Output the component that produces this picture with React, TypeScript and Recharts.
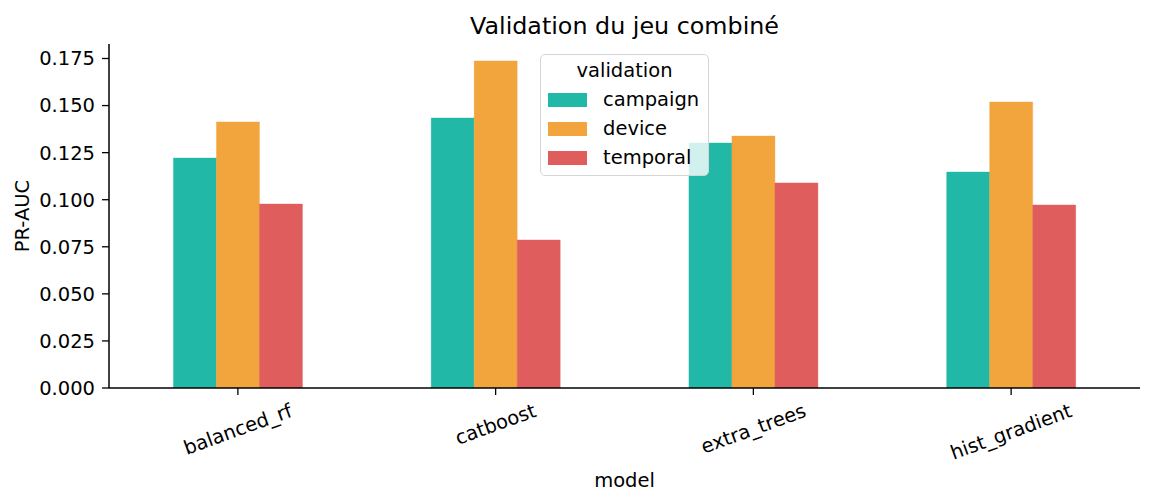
import React from 'react';
import { BarChart, Bar, XAxis, YAxis } from 'recharts';

// valeurs (PR-AUC par modèle et par type de validation)
const models = ['balanced_rf', 'catboost', 'extra_trees', 'hist_gradient'];
const campaign = [0.1221, 0.1434, 0.1301, 0.1147];
const device = [0.1413, 0.1737, 0.1338, 0.1519];
const temporal = [0.0977, 0.0786, 0.1089, 0.0972];
const yTicks = [0, 0.025, 0.05, 0.075, 0.1, 0.125, 0.15, 0.175];

const series = [
  { key: 'campaign', color: '#22B8A8' },
  { key: 'device', color: '#F2A53D' },
  { key: 'temporal', color: '#DF5D5D' },
];

const data = models.map((model, i) => ({
  model,
  campaign: campaign[i],
  device: device[i],
  temporal: temporal[i],
}));

const FONT = '"DejaVu Sans", sans-serif';
const FS = 19.5;
const W = 1153;
const H = 503;

let ctx: CanvasRenderingContext2D | null = null;
const textWidth = (s: string, size: number) => {
  if (!ctx) ctx = document.createElement('canvas').getContext('2d');
  if (!ctx) return s.length * size * 0.58;
  ctx.font = `${size}px "DejaVu Sans"`;
  return ctx.measureText(s).width;
};

// étiquettes de l'axe x tournées de 20°, centrées sous la graduation
const XTick = (props: any) => {
  const { x, y, payload } = props;
  const w = textWidth(payload.value, FS);
  const rad = (20 * Math.PI) / 180;
  const cy = y + 5 + (w * Math.sin(rad) + 20) / 2;
  return (
    <text
      transform={`translate(${x},${cy}) rotate(-20)`}
      textAnchor="middle"
      dominantBaseline="central"
      fontSize={FS}
      fontFamily={FONT}
      fill="#000"
    >
      {payload.value}
    </text>
  );
};

const XLabel = (props: any) => {
  const { viewBox } = props;
  return (
    <text
      x={viewBox.x + viewBox.width / 2}
      y={480}
      textAnchor="middle"
      dominantBaseline="central"
      fontSize={FS}
      fontFamily={FONT}
      fill="#000"
    >
      model
    </text>
  );
};

const YLabel = (props: any) => {
  const { viewBox } = props;
  const cy = viewBox.y + viewBox.height / 2;
  return (
    <text
      transform={`translate(22,${cy}) rotate(-90)`}
      textAnchor="middle"
      dominantBaseline="central"
      fontSize={FS}
      fontFamily={FONT}
      fill="#000"
    >
      PR-AUC
    </text>
  );
};

const App = () => {
  return (
    <div style={{ position: 'absolute', left: 0, top: 0, width: W, height: H, background: '#fff', fontFamily: FONT }}>
      <div
        style={{
          position: 'absolute',
          left: 109,
          width: 1031,
          top: 12,
          textAlign: 'center',
          fontSize: 23.8,
          lineHeight: '28px',
          color: '#000',
        }}
      >
        Validation du jeu combiné
      </div>

      <BarChart
        width={W}
        height={H}
        data={data}
        margin={{ top: 44, right: 13, left: 0, bottom: 0 }}
        barCategoryGap="25%"
        barGap={0}
      >
        <XAxis
          dataKey="model"
          height={115}
          tick={<XTick />}
          tickSize={7}
          tickMargin={0}
          axisLine={{ stroke: '#000', strokeWidth: 1.5 }}
          tickLine={{ stroke: '#000', strokeWidth: 1.3 }}
          interval={0}
          label={<XLabel />}
        />
        <YAxis
          width={109}
          domain={[0, 0.1827]}
          ticks={yTicks}
          tickFormatter={(v: number) => v.toFixed(3)}
          tick={{ fill: '#000', fontSize: FS, fontFamily: FONT }}
          tickSize={7}
          tickMargin={7}
          axisLine={{ stroke: '#000', strokeWidth: 1.5 }}
          tickLine={{ stroke: '#000', strokeWidth: 1.3 }}
          allowDataOverflow
          label={<YLabel />}
        />
        {series.map((s) => (
          <Bar
            key={s.key}
            dataKey={s.key}
            fill={s.color}
            stroke={s.color}
            strokeWidth={0.4}
            isAnimationActive={false}
          />
        ))}
      </BarChart>

      {/* légende façon matplotlib */}
      <div
        style={{
          position: 'absolute',
          left: 540,
          top: 54,
          width: 169,
          height: 122,
          boxSizing: 'border-box',
          border: '1.5px solid #d6d6d6',
          borderRadius: 5,
          background: 'rgba(255,255,255,0.8)',
          fontSize: FS,
          color: '#000',
        }}
      >
        <div style={{ position: 'absolute', left: 0, right: 0, top: 4, textAlign: 'center', lineHeight: '24px' }}>
          validation
        </div>
        {series.map((s, i) => (
          <div key={s.key} style={{ position: 'absolute', left: 7, top: 33 + i * 29, height: 24, display: 'flex', alignItems: 'center' }}>
            <div style={{ width: 39, height: 14, background: s.color }} />
            <div style={{ marginLeft: 16, lineHeight: '24px' }}>{s.key}</div>
          </div>
        ))}
      </div>
    </div>
  );
};

export default App;
